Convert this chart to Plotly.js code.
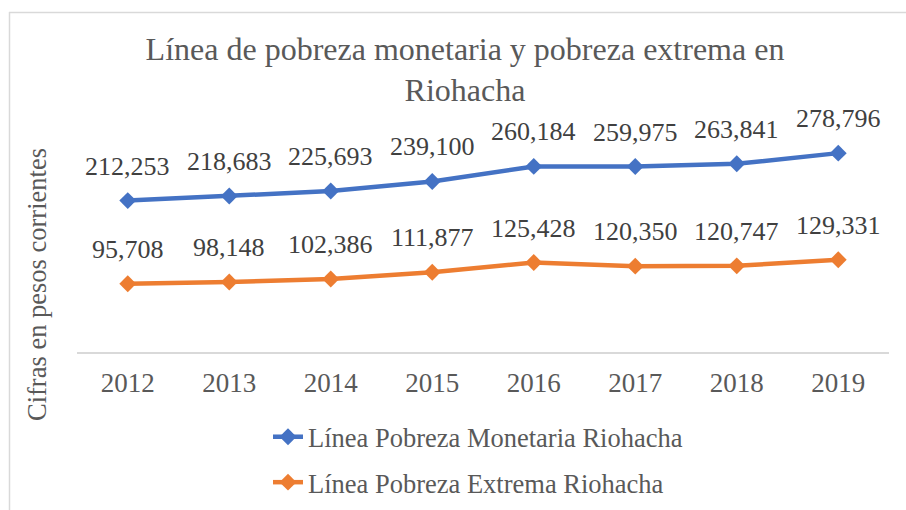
<!DOCTYPE html>
<html><head><meta charset="utf-8">
<script src="https://cdn.plot.ly/plotly-3.0.1.min.js"></script>
<style>html,body{margin:0;padding:0;background:#fff;overflow:hidden}#wrap{width:906px;height:510px;overflow:hidden}</style>
</head><body><div id="wrap"><div id="chart"></div></div>
<script>
const years = ['2012','2013','2014','2015','2016','2017','2018','2019'];
const monetaria = [212253, 218683, 225693, 239100, 260184, 259975, 263841, 278796];
const extrema = [95708, 98148, 102386, 111877, 125428, 120350, 120747, 129331];
const seriesNames = ['Línea Pobreza Monetaria Riohacha', 'Línea Pobreza Extrema Riohacha'];
const titleText = 'Línea de pobreza monetaria y pobreza extrema en<br>Riohacha';
const yTitle = 'Cifras en pesos corrientes';

const FONT = 'Liberation Serif';
const W = 906, H = 560, L = 77, R = 17, T = 138, B = 0;
const AXIS_Y = 352;
const pw = W - L - R, ph = H - T - B;
const px = x => (x - L) / pw;
const py = y => (H - B - y) / ph;

const fmt = v => v.toLocaleString('en-US');

function trace(vals, name, color, grp) {
  return {
    x: years, y: vals, name: name, type: 'scatter', mode: 'lines+markers',
    legendgroup: grp,
    line: {color: color, width: 4.5},
    marker: {symbol: 'diamond', size: 13, color: color},
    hoverinfo: 'skip'
  };
}

const annotations = [];
[monetaria, extrema].forEach(vals => {
  vals.forEach((v, i) => annotations.push({
    x: i, y: v, xref: 'x', yref: 'y', text: fmt(v), showarrow: false,
    yanchor: 'bottom', yshift: 18,
    font: {family: FONT, size: 26, color: '#404040'}
  }));
});
annotations.push({
  xref: 'paper', yref: 'paper', x: px(37), y: py(285), text: yTitle, textangle: -90,
  showarrow: false, xanchor: 'center', yanchor: 'middle',
  font: {family: FONT, size: 26.5, color: '#595959'}
});

const layout = {
  width: W, height: H,
  margin: {l: L, r: R, t: T, b: B},
  paper_bgcolor: '#fff', plot_bgcolor: 'rgba(0,0,0,0)',
  font: {family: FONT, color: '#595959'},
  title: {text: titleText, x: 465 / W, xanchor: 'center', xref: 'container', y: 1 - 59.5 / H, yanchor: 'top', yref: 'container',
    font: {family: FONT, size: 32, color: '#595959'}},
  xaxis: {type: 'category', range: [-0.5, 7.5], showgrid: false, zeroline: false,
    showline: true, linecolor: '#d9d9d9', linewidth: 1.5, ticks: '', automargin: false,
    tickfont: {family: FONT, size: 27, color: '#595959'}, ticklabelstandoff: 6, fixedrange: true},
  yaxis: {domain: [py(AXIS_Y), 1], range: [0, 300000], showgrid: false, zeroline: false, showline: false, automargin: false,
    showticklabels: false, ticks: '', fixedrange: true},
  showlegend: true,
  legend: {orientation: 'v', x: px(268), xanchor: 'left', y: py(413), yanchor: 'top',
    font: {family: FONT, size: 26.5, color: '#595959'}, tracegroupgap: 8, bgcolor: 'rgba(0,0,0,0)'},
  annotations: annotations,
  shapes: [
    {type: 'line', xref: 'paper', yref: 'paper', x0: px(9), x1: px(920), y0: py(12.5), y1: py(12.5),
     line: {color: '#d9d9d9', width: 1.5}},
    {type: 'line', xref: 'paper', yref: 'paper', x0: px(9.5), x1: px(9.5), y0: py(12), y1: py(600),
     line: {color: '#d9d9d9', width: 1.5}}
  ]
};

Plotly.newPlot('chart', [
  trace(monetaria, seriesNames[0], '#4472C4', 'a'),
  trace(extrema, seriesNames[1], '#ED7D31', 'b')
], layout, {displayModeBar: false, staticPlot: true});
</script></body></html>
